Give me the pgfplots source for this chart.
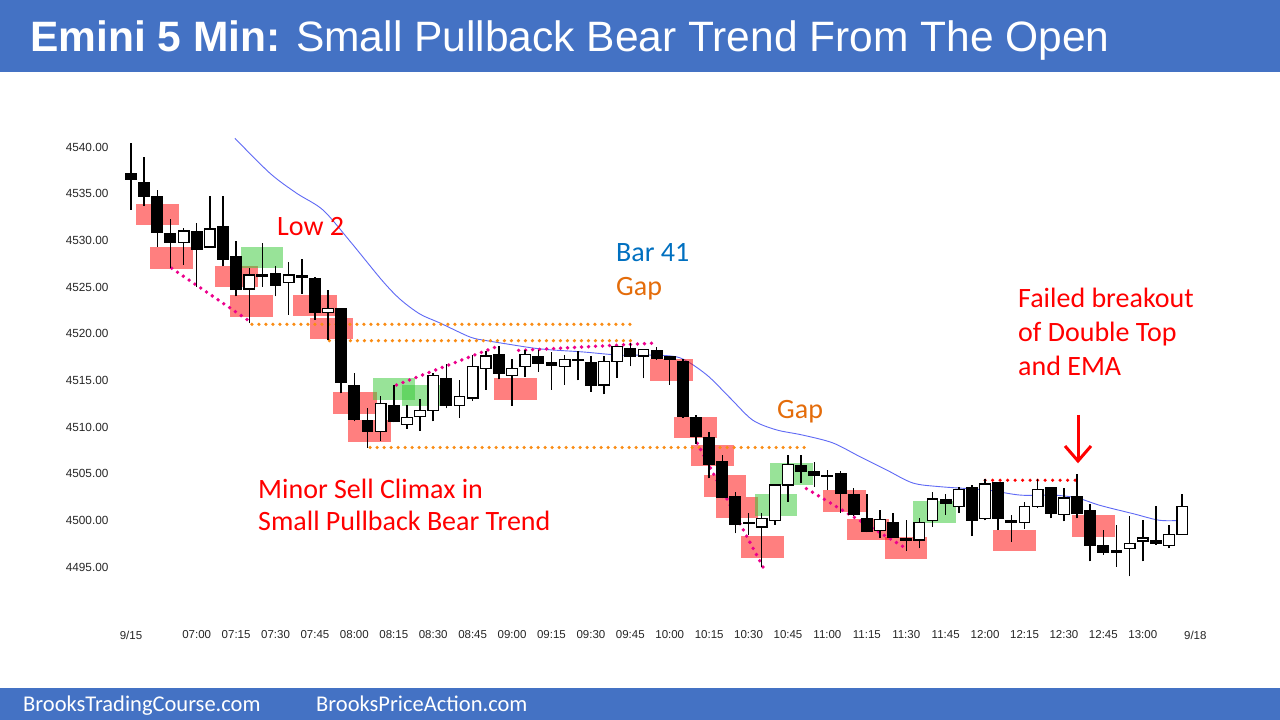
\documentclass[border=0pt]{standalone}
\usepackage{pgfplots}
\pgfplotsset{compat=1.18}
\usepackage{pgfplotstable}
\usepackage{fontspec}
\setmainfont{Liberation Sans}
\newfontfamily\calib{Carlito}
\definecolor{hdr}{RGB}{68,114,196}
\definecolor{boxred}{RGB}{255,0,0}
\definecolor{boxgreen}{RGB}{50,200,50}
\definecolor{orangedot}{RGB}{250,140,20}
\definecolor{gaporange}{RGB}{228,108,10}
\definecolor{barblue}{RGB}{0,112,192}
\definecolor{emablue}{RGB}{95,105,245}

\pgfdeclareplotmark{candle}{%
  \pgfsetlinewidth{1.5pt}%
  \pgfpathmoveto{\pgfpoint{0pt}{0pt}}%
  \pgfpathlineto{\pgfpoint{0pt}{\cH pt}}%
  \pgfusepath{stroke}%
  \pgfsetlinewidth{1.3pt}%
  \pgfpathrectanglecorners{\pgfpoint{-5.3pt}{\cB pt}}{\pgfpoint{5.3pt}{\cT pt}}%
  \pgfusepath{fill,stroke}%
}

\pgfplotstableread{
i o h l c
1 4537.1 4540.4 4533.3 4536.5
2 4536.2 4538.9 4533.7 4534.7
3 4534.7 4535.4 4529.3 4530.9
4 4530.7 4532.3 4527.0 4529.8
6 4530.9 4531.9 4525.0 4529.0
8 4531.5 4534.7 4527.2 4528.0
9 4528.2 4529.9 4524.0 4524.7
11 4526.3 4529.7 4525.0 4526.1
12 4526.4 4527.2 4524.0 4525.2
14 4526.2 4528.0 4524.3 4526.0
15 4525.9 4526.1 4521.5 4522.3
17 4522.7 4522.8 4513.6 4514.8
18 4514.4 4515.8 4510.6 4510.8
19 4510.7 4512.0 4507.8 4509.5
21 4512.3 4514.5 4510.5 4510.6
25 4515.2 4516.8 4512.0 4512.3
29 4517.7 4518.7 4515.1 4515.8
32 4517.5 4518.3 4515.9 4516.8
33 4516.9 4518.0 4514.0 4516.6
35 4517.2 4518.1 4515.0 4517.1
36 4516.9 4517.6 4513.8 4514.5
39 4518.4 4519.0 4516.5 4517.6
41 4518.2 4518.6 4517.2 4517.4
42 4517.5 4517.6 4514.5 4517.3
43 4517.0 4517.3 4511.0 4511.1
44 4511.0 4511.3 4508.2 4509.0
45 4508.9 4509.5 4504.5 4506.0
46 4506.3 4507.0 4502.35 4502.5
47 4502.5 4503.0 4498.6 4499.6
48 4499.8 4500.8 4498.4 4499.7
52 4505.9 4507.0 4504.0 4505.3
53 4505.2 4506.3 4503.6 4504.8
54 4504.8 4505.4 4503.3 4504.7
55 4505.0 4505.3 4500.8 4502.9
56 4502.8 4503.5 4500.5 4500.6
57 4500.2 4502.8 4498.7 4498.8
59 4499.8 4500.8 4498.1 4498.2
60 4498.0 4500.0 4496.75 4497.9
63 4502.2 4502.8 4500.6 4501.8
65 4503.5 4503.8 4498.3 4500.0
67 4504.0 4504.1 4499.0 4500.2
68 4500.0 4500.6 4497.7 4499.8
71 4503.5 4503.6 4500.2 4500.8
73 4502.5 4505.0 4500.2 4500.8
74 4501.0 4501.7 4495.6 4497.3
75 4497.3 4499.0 4496.3 4496.6
79 4497.8 4501.5 4497.4 4497.5
}\bear

\pgfplotstableread{
i o h l c
5 4529.8 4531.3 4527.4 4531.0
7 4529.3 4534.7 4529.2 4531.2
10 4524.8 4527.0 4521.1 4526.3
13 4525.5 4527.7 4522.0 4526.3
16 4522.3 4524.7 4519.3 4522.7
20 4509.5 4513.3 4508.5 4512.5
22 4510.3 4512.4 4509.8 4511.0
23 4511.1 4513.0 4509.6 4511.8
24 4511.8 4515.8 4510.6 4515.5
26 4512.3 4515.0 4511.0 4513.3
27 4513.1 4517.7 4512.8 4516.5
28 4516.3 4518.1 4514.0 4517.6
30 4515.5 4517.3 4512.3 4516.3
31 4516.5 4518.2 4515.4 4517.8
34 4516.5 4517.7 4514.5 4517.25
37 4514.5 4517.6 4513.5 4517.0
38 4517.0 4518.7 4515.3 4518.6
40 4517.6 4518.4 4515.2 4518.3
49 4499.3 4500.8 4495.0 4500.2
50 4500.0 4503.9 4499.5 4503.8
51 4503.8 4507.0 4502.0 4506.0
58 4498.9 4501.1 4498.1 4500.1
61 4497.9 4500.2 4497.0 4499.8
62 4500.0 4503.0 4499.3 4502.3
64 4501.5 4503.6 4500.8 4503.3
66 4500.2 4504.4 4500.0 4503.9
69 4499.8 4502.0 4499.1 4501.5
70 4501.5 4504.4 4501.3 4503.3
72 4500.6 4503.5 4499.9 4502.4
76 4496.6 4499.5 4495.0 4496.8
77 4497.0 4500.5 4494.0 4497.5
78 4497.8 4500.0 4495.6 4498.1
80 4497.3 4499.5 4497.0 4498.5
81 4498.5 4502.8 4498.5 4501.5
}\bull

\newcommand{\hlbox}[5]{\addplot[draw=none, fill=#5, fill opacity=0.5] coordinates {(#1,#3) (#2,#3) (#2,#4) (#1,#4)} -- cycle;}

\begin{document}
\begin{tikzpicture}
\fill[white] (0pt,0pt) rectangle (1280pt,720pt);
\begin{axis}[
  at={(0pt,0pt)}, anchor=south west,
  x=13.14pt, y=9.3333pt,
  xmin=-8.9696, xmax=88.4429,
  ymin=4478.607, ymax=4555.75,
  axis line style={draw=none},
  major tick style={draw=none},
  xtick={1,6,9,12,15,18,21,24,27,30,33,36,39,42,45,48,51,54,57,60,63,66,69,72,75,78,82},
  xticklabels={9/15,07:00,07:15,07:30,07:45,08:00,08:15,08:30,08:45,09:00,09:15,09:30,09:45,10:00,10:15,10:30,10:45,11:00,11:15,11:30,11:45,12:00,12:15,12:30,12:45,13:00,9/18},
  ytick={4495,4500,4505,4510,4515,4520,4525,4530,4535,4540},
  yticklabels={4495.00,4500.00,4505.00,4510.00,4515.00,4520.00,4525.00,4530.00,4535.00,4540.00},
  xticklabel style={font=\fontsize{11.5}{12}\selectfont, text=black!85, anchor=center, yshift=85pt},
  yticklabel style={font=\fontsize{11.8}{12}\selectfont, text=black!85, anchor=east, xshift=112pt},
  clip=true,
]
% candles
\addplot[only marks, mark=candle, mark options={draw=black, fill=black},
  visualization depends on={(\thisrow{h}-\thisrow{l})*9.3333 \as \cH},
  visualization depends on={(\thisrow{c}-\thisrow{l})*9.3333 \as \cB},
  visualization depends on={(\thisrow{o}-\thisrow{l})*9.3333 \as \cT}]
  table[x=i, y=l] {\bear};
\addplot[only marks, mark=candle, mark options={draw=black, fill=white},
  visualization depends on={(\thisrow{h}-\thisrow{l})*9.3333 \as \cH},
  visualization depends on={(\thisrow{o}-\thisrow{l})*9.3333 \as \cB},
  visualization depends on={(\thisrow{c}-\thisrow{l})*9.3333 \as \cT}]
  table[x=i, y=l] {\bull};
% EMA
\addplot[emablue, line width=0.9pt, smooth, tension=0.5] coordinates {
(8.91,4540.93) (11.58,4537.18) (13.61,4535.04) (15.61,4533.25) (17.67,4529.9) (20.08,4525.75) (21.47,4523.7) (22.99,4522.1) (24.52,4521.14) (26.8,4519.64) (28.07,4519.25) (29.59,4518.9) (31.6,4518.46) (33.1,4518.25) (35.4,4518.04) (38.2,4517.7) (40.7,4517.7) (42.8,4517.4) (44.8,4515.6) (46.6,4513.1) (48.3,4510.75) (50.1,4509.7) (52.1,4509.14) (54.4,4508.3) (56.5,4506.8) (58.5,4505.4) (60.5,4504.0) (62.6,4503.6) (66.1,4503.25) (68.7,4502.7) (71.2,4502.7) (73.0,4502.4) (74.75,4501.6) (77.3,4500.7) (79.3,4500.0) (81.1,4500.0)};
% highlight boxes
\hlbox{1.38}{4.68}{4531.6}{4533.9}{boxred}
\hlbox{2.45}{5.75}{4526.9}{4529.25}{boxred}
\hlbox{7.4}{10.7}{4525.0}{4527.2}{boxred}
\hlbox{8.5}{11.8}{4521.8}{4524.1}{boxred}
\hlbox{13.35}{16.65}{4521.9}{4524.1}{boxred}
\hlbox{14.6}{17.9}{4519.4}{4521.7}{boxred}
\hlbox{16.4}{19.7}{4511.4}{4513.7}{boxred}
\hlbox{17.5}{20.8}{4508.4}{4510.7}{boxred}
\hlbox{28.6}{31.9}{4512.9}{4515.2}{boxred}
\hlbox{40.5}{43.75}{4514.95}{4517.25}{boxred}
\hlbox{42.3}{45.6}{4508.85}{4511.1}{boxred}
\hlbox{43.6}{46.9}{4505.8}{4508.1}{boxred}
\hlbox{44.6}{47.8}{4502.5}{4504.85}{boxred}
\hlbox{45.5}{48.7}{4500.2}{4502.5}{boxred}
\hlbox{47.4}{50.7}{4496.0}{4498.3}{boxred}
\hlbox{53.7}{56.9}{4500.85}{4503.2}{boxred}
\hlbox{55.5}{58.7}{4497.9}{4500.1}{boxred}
\hlbox{58.4}{61.6}{4495.9}{4498.2}{boxred}
\hlbox{66.6}{69.9}{4496.7}{4499.0}{boxred}
\hlbox{72.6}{75.9}{4498.25}{4500.6}{boxred}
\hlbox{9.35}{12.6}{4527.0}{4529.3}{boxgreen}
\hlbox{19.4}{22.6}{4512.9}{4515.2}{boxgreen}
\hlbox{21.6}{24.8}{4512.25}{4514.5}{boxgreen}
\hlbox{48.5}{51.7}{4500.5}{4502.8}{boxgreen}
\hlbox{49.6}{52.9}{4503.8}{4506.1}{boxgreen}
\hlbox{60.5}{63.8}{4499.75}{4502.1}{boxgreen}
% dotted lines
\addplot[orangedot, line width=3.6pt, line cap=round, dash pattern=on 0pt off 7pt] coordinates {(10.2,4521.0) (39.2,4521.0)};
\addplot[orangedot, line width=3.6pt, line cap=round, dash pattern=on 0pt off 7pt] coordinates {(16.1,4519.25) (39.2,4519.25)};
\addplot[orangedot, line width=3.6pt, line cap=round, dash pattern=on 0pt off 7pt] coordinates {(19.2,4507.8) (52.3,4507.8)};
\addplot[magenta, line width=3.8pt, line cap=round, dash pattern=on 0pt off 7pt] coordinates {(4.1,4527.0) (10.05,4521.3)};
\addplot[magenta, line width=3.8pt, line cap=round, dash pattern=on 0pt off 7pt] coordinates {(21.2,4514.5) (28.8,4518.6)};
\addplot[magenta, line width=3.8pt, line cap=round, dash pattern=on 0pt off 7pt] coordinates {(30.5,4518.2) (41.0,4519.0)};
\addplot[magenta, line width=3.8pt, line cap=round, dash pattern=on 0pt off 7pt] coordinates {(44.1,4508.25) (49.1,4495.0)};
\addplot[magenta, line width=3.8pt, line cap=round, dash pattern=on 0pt off 7pt] coordinates {(52.4,4503.4) (60.1,4496.9)};
\addplot[red, line width=3.4pt, line cap=round, dash pattern=on 0pt off 7.5pt] coordinates {(66,4504.3) (73,4504.3)};
\end{axis}
% header and footer
\fill[hdr] (0pt,648pt) rectangle (1280pt,720pt);
\fill[hdr] (0pt,0pt) rectangle (1280pt,32pt);
\node[anchor=base west, inner sep=0pt, text=white, font=\fontsize{42.5}{42.5}\selectfont] at (30pt,668pt) {\textbf{Emini 5 Min:} Small Pullback Bear Trend From The Open};
\node[anchor=base west, inner sep=0pt, text=white, font=\calib\fontsize{22.5}{22.5}\selectfont] at (23pt,8pt) {BrooksTradingCourse.com};
\node[anchor=base west, inner sep=0pt, text=white, font=\calib\fontsize{22.5}{22.5}\selectfont] at (316pt,8pt) {BrooksPriceAction.com};
% annotations
\begin{scope}[every node/.style={anchor=base west, inner sep=0pt, font=\calib\fontsize{28}{28}\selectfont}]
\node[text=red] at (277pt,484pt) {Low 2};
\node[text=barblue] at (616pt,458pt) {Bar 41};
\node[text=gaporange] at (616pt,424pt) {Gap};
\node[text=gaporange] at (777pt,301pt) {Gap};
\node[text=red] at (1018pt,412pt) {Failed breakout};
\node[text=red] at (1018pt,378pt) {of Double Top};
\node[text=red] at (1018pt,344pt) {and EMA};
\node[text=red] at (258pt,221pt) {Minor Sell Climax in};
\node[text=red] at (258pt,189pt) {Small Pullback Bear Trend};
\end{scope}
\draw[red, line width=3pt] (1078pt,305pt) -- (1078pt,260pt);
\draw[red, line width=3pt, line join=miter] (1065pt,274pt) -- (1078pt,259pt) -- (1091pt,274pt);
\pgfresetboundingbox
\useasboundingbox (0pt,0pt) rectangle (1280pt,720pt);
\end{tikzpicture}
\end{document}
